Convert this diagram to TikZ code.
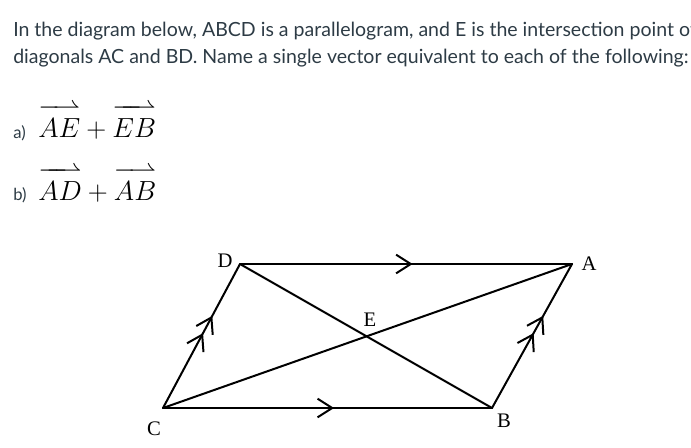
\documentclass[tikz,border=0pt]{standalone}
\usepackage{amsmath}
\usepackage{fontspec}
\newfontfamily\lato{Lato}
\newfontfamily\lblfont{Liberation Serif}
\usetikzlibrary{arrows.meta,decorations.markings}
\makeatletter
\def\rharpfill@{\arrowfill@\relbar\relbar\rightharpoonup}
\def\myover@#1#2#3{\vbox{\ialign{##\crcr#1#2\crcr\noalign{\nointerlineskip\kern2.5pt}$\m@th\hfil#2#3\hfil$\crcr}}}
\newcommand{\ovh}{\mathpalette{\myover@\rharpfill@}}
\makeatother
\definecolor{textgray}{HTML}{2D3B45}
\tikzset{
  prose/.style={anchor=base west, inner sep=0, font=\lato\fontsize{14.65}{17}\selectfont, text=textgray},
  itemlbl/.style={anchor=base west, inner sep=0, font=\lato\fontsize{12.5}{14}\selectfont, text=textgray},
  mathexpr/.style={anchor=base west, inner sep=0, font=\fontsize{20}{24}\selectfont},
  edge/.style={line width=1.5pt, line cap=round},
  vtx/.style={font=\lblfont\fontsize{15.5}{18}\selectfont, inner sep=0},
  chev/.tip={Straight Barb[length=11pt,width=14pt,line width=1.5pt]},
  onechev/.style={postaction={decorate,decoration={markings,
     mark=at position 0.52 with {\arrow{chev}}}}},
  twochev/.style={postaction={decorate,decoration={markings,
     mark=at position 0.52 with {\arrow{chev}},
     mark=at position 0.64 with {\arrow{chev}}}}}
}
\begin{document}
\begin{tikzpicture}[x=0.75pt,y=-0.75pt]
\useasboundingbox (0,0) rectangle (691,447);
\node[prose] (l1) at (13,36) {In the diagram below, ABCD is a parallelogram, and E is the intersection point of};
\node[prose] (l2) at (13,63) {diagonals AC and BD. Name a single vector equivalent to each of the following:};
\node[itemlbl] (ia) at (13,138) {a)};
\node[mathexpr] (ea) at (38,137) {$\ovh{AE}+\ovh{EB}$};
\node[itemlbl] (ib) at (13,200) {b)};
\node[mathexpr] (eb) at (38,200) {$\ovh{AD}+\ovh{AB}$};
\coordinate (D) at (240,264);
\coordinate (A) at (572,264);
\coordinate (C) at (163,408);
\coordinate (B) at (492,408);
\draw[edge,onechev] (D) -- (A);
\draw[edge,onechev] (C) -- (B);
\draw[edge,twochev] (C) -- (D);
\draw[edge,twochev] (B) -- (A);
\draw[edge] (D) -- (B);
\draw[edge] (C) -- (A);
\node[vtx] (lD) at (225,261) {D};
\node[vtx] (lA) at (589,264) {A};
\node[vtx] (lC) at (154,429) {C};
\node[vtx] (lB) at (504,421) {B};
\node[vtx] (lE) at (370,320) {E};
\end{tikzpicture}
\end{document}
